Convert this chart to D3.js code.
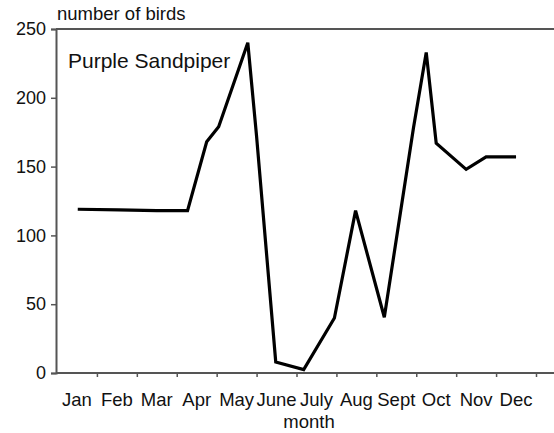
<!DOCTYPE html>
<html>
<head>
<meta charset="utf-8">
<script src="https://cdn.jsdelivr.net/npm/d3@7"></script>
<style>
  body { margin: 0; background: #fff; }
  text { font-family: 'Liberation Sans', Arial, sans-serif; fill: #111; }
</style>
</head>
<body>
<svg id="chart"></svg>
<script>
// data
const monthLabels = ['Jan', 'Feb', 'Mar', 'Apr', 'May', 'June', 'July', 'Aug', 'Sept', 'Oct', 'Nov', 'Dec'];
// survey date as fraction of the year in months (0 = 1 Jan)
const surveyMonth = [0.52, 1.55, 2.5, 3.27, 3.75, 4.05, 4.78, 5.0, 5.48, 6.18, 6.95, 7.48, 8.2, 8.93, 9.25, 9.5, 10.25, 10.75, 11.5];
const birdCounts = [119, 118.5, 118, 118, 168, 179, 240, 172, 8, 2.5, 40, 118, 40.5, 178, 233, 167, 148, 157, 157];
const yTicks = [0, 50, 100, 150, 200, 250];

const width = 554, height = 433;
const svg = d3.select('#chart').attr('width', width).attr('height', height);

const x = d3.scaleLinear().domain([0, 12]).range([57, 536]);
const y = d3.scaleLinear().domain([0, 250]).range([373, 29]);
const axisColor = '#555';

// frame (runs off the right edge like the scan)
svg.append('line')
  .attr('x1', 56).attr('x2', width + 10)
  .attr('y1', y(250)).attr('y2', y(250))
  .attr('stroke', axisColor).attr('stroke-width', 2);

// y axis
const yAxis = svg.append('g')
  .attr('transform', 'translate(56,0)')
  .call(d3.axisLeft(y).tickValues(yTicks).tickSize(5).tickPadding(5));
yAxis.select('.domain').attr('stroke', axisColor).attr('stroke-width', 2);
yAxis.selectAll('.tick line').attr('stroke', axisColor).attr('stroke-width', 1.5);
yAxis.selectAll('.tick text').attr('font-size', 18).attr('fill', '#111');

// x axis: ticks on month boundaries, labels centred in the month
const xAxis = svg.append('g')
  .attr('transform', `translate(0,${y(0)})`)
  .call(d3.axisBottom(x).tickValues(d3.range(1, 13)).tickSize(4).tickFormat(''));
xAxis.select('.domain').remove();
xAxis.selectAll('.tick line').attr('stroke', axisColor).attr('stroke-width', 1.5);
svg.append('line')
  .attr('x1', 56).attr('x2', width + 10)
  .attr('y1', y(0)).attr('y2', y(0))
  .attr('stroke', axisColor).attr('stroke-width', 2);

svg.selectAll('.month-label')
  .data(monthLabels)
  .enter()
  .append('text')
  .attr('class', 'month-label')
  .attr('x', (d, i) => x(i + 0.5))
  .attr('y', 406)
  .attr('text-anchor', 'middle')
  .attr('font-size', 18.5)
  .text(d => d);

// axis titles
svg.append('text')
  .attr('x', 57).attr('y', 20)
  .attr('font-size', 18.5)
  .text('number of birds');

svg.append('text')
  .attr('x', 309).attr('y', 428)
  .attr('text-anchor', 'middle')
  .attr('font-size', 18.5)
  .text('month');

svg.append('text')
  .attr('x', 68).attr('y', 68)
  .attr('font-size', 21)
  .text('Purple Sandpiper');

// the count line
const line = d3.line()
  .x((d, i) => x(surveyMonth[i]))
  .y(d => y(d));

svg.append('path')
  .datum(birdCounts)
  .attr('d', line)
  .attr('fill', 'none')
  .attr('stroke', '#000')
  .attr('stroke-width', 3.2)
  .attr('stroke-linejoin', 'miter');
</script>
</body>
</html>
